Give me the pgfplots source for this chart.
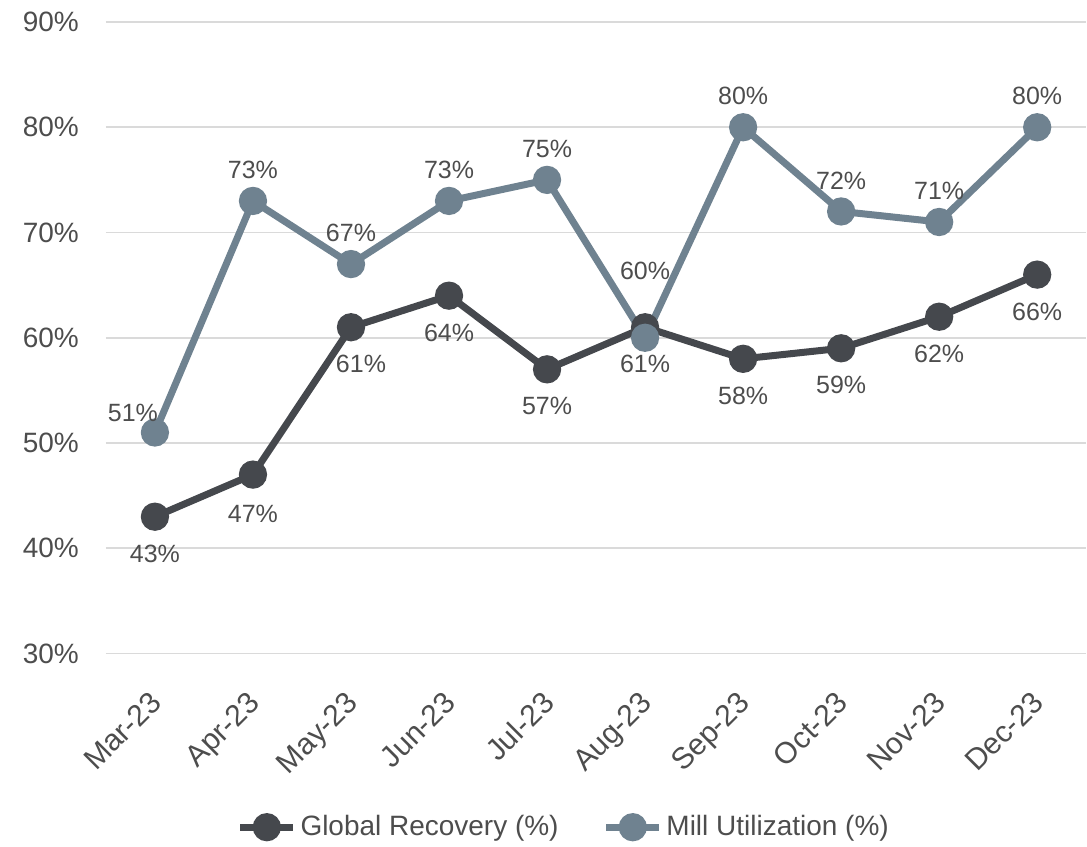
\documentclass[border=0pt]{standalone}
\usepackage{fontspec}
\setmainfont{Liberation Sans}
\usepackage{pgfplots}
\usepackage{pgfplotstable}
\pgfplotsset{compat=1.18}
\definecolor{darkline}{HTML}{45484D}
\definecolor{lightline}{HTML}{6F8290}
\definecolor{txt}{HTML}{4D4D4D}
\definecolor{gridc}{HTML}{DADADA}
\pgfplotstableread{
x y dx dy
0 43 0 -18.5
1 47 0 -19.5
2 61 5 -18.5
3 64 0 -18.5
4 57 0 -18.5
5 61 0 -18.5
6 58 0 -18.5
7 59 0 -18.5
8 62 0 -18.5
9 66 0 -18.5
}\recovery
\pgfplotstableread{
x y dx dy
0 51 -11 10
1 73 0 15.5
2 67 0 15.5
3 73 0 15.5
4 75 0 15.5
5 60 0 33.5
6 80 0 15.5
7 72 0 15.5
8 71 0 15.5
9 80 0 15.5
}\mill
\begin{document}
\begin{tikzpicture}
\path (-53pt,327pt) rectangle (490.5pt,-94.5pt);
\begin{axis}[
  scale only axis,
  width=490.5pt, height=316pt,
  xmin=-0.5, xmax=9.5,
  ymin=30, ymax=90,
  ytick={30,40,...,90},
  yticklabel={\pgfmathprintnumber{\tick}\%},
  xtick={0,...,9},
  xticklabels={Mar-23,Apr-23,May-23,Jun-23,Jul-23,Aug-23,Sep-23,Oct-23,Nov-23,Dec-23},
  x tick label style={rotate=45, anchor=north east, font=\fontsize{15}{17}\selectfont, text=txt, xshift=-11.5pt, yshift=-7pt},
  y tick label style={font=\fontsize{14}{16}\selectfont, text=txt, xshift=-10pt},
  /pgf/number format/assume math mode=true,
  axis line style={draw=none},
  major tick length=0pt,
  ymajorgrids,
  grid style={gridc, line width=0.8pt},
  legend style={at={(0.468,-0.275)}, anchor=center, draw=none, fill=none,
    font=\fontsize{14}{16}\selectfont, text=txt, legend columns=2,
    /tikz/every even column/.append style={column sep=20pt}},
  legend image code/.code={
    \draw[mark repeat=2, mark phase=2, #1] plot coordinates {(0,0) (0.47cm,0) (0.93cm,0)};
  },
  clip=false,
  nodes near coords={\pgfmathprintnumber{\pgfplotspointmeta}\%},
  every node near coord/.append style={font=\fontsize{12.5}{14}\selectfont, text=txt, anchor=center, xshift=\dx pt, yshift=\dy pt},
  visualization depends on={\thisrow{dx}\as\dx},
  visualization depends on={\thisrow{dy}\as\dy},
]
\addplot[darkline, line width=3.5pt, mark=*, mark size=5.3pt, mark options={solid}] table[x=x,y=y] {\recovery};
\addlegendentry{Global Recovery (\%)}
\addplot[lightline, line width=3.5pt, mark=*, mark size=5.3pt, mark options={solid}] table[x=x,y=y] {\mill};
\addlegendentry{Mill Utilization (\%)}
\end{axis}
\end{tikzpicture}
\end{document}
